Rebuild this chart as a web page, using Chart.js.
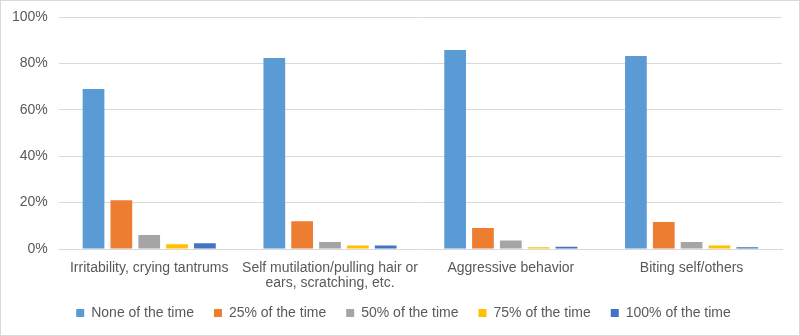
<!DOCTYPE html>
<html>
<head>
<meta charset="utf-8">
<script src="https://cdn.jsdelivr.net/npm/chart.js@4/dist/chart.umd.min.js"></script>
<style>
html,body{margin:0;padding:0;background:#fff;}
#wrap{position:absolute;left:0;top:0;width:798px;height:334px;border:1px solid #D9D9D9;background:#fff;}
canvas{display:block;}
</style>
</head>
<body>
<div id="wrap"><canvas id="c" width="798" height="334"></canvas></div>
<script>
const categories = [
  "Irritability, crying tantrums",
  ["Self mutilation/pulling hair or", "ears, scratching, etc."],
  "Aggressive behavior",
  "Biting self/others"
];
const seriesNames = ["None of the time", "25% of the time", "50% of the time", "75% of the time", "100% of the time"];
const noneOfTime = [69.0, 82.3, 85.8, 83.2];
const pct25 = [21.0, 12.0, 9.0, 11.6];
const pct50 = [6.0, 3.0, 3.7, 3.0];
const pct75 = [2.0, 1.5, 0.8, 1.5];
const pct100 = [2.5, 1.5, 1.0, 0.8];
const yTicks = [0, 20, 40, 60, 80, 100];
const colors = ["#5B9BD5", "#ED7D31", "#A5A5A5", "#FFC000", "#4472C4"];

const values = [noneOfTime, pct25, pct50, pct75, pct100];
const FONT = "'Liberation Sans', Arial, sans-serif";

const legendShift = {
  id: 'legendShift',
  afterLayout(chart) {
    const lg = chart.legend;
    if (lg) { lg.left += 12; lg.right += 12; lg.top -= 5; lg.bottom -= 5; }
  }
};

new Chart(document.getElementById('c'), {
  type: 'bar',
  data: {
    labels: categories,
    datasets: values.map((v, i) => ({
      label: seriesNames[i],
      data: v,
      backgroundColor: colors[i],
      borderWidth: 0,
      categoryPercentage: 0.77,
      barPercentage: 0.78
    }))
  },
  plugins: [legendShift],
  options: {
    responsive: false,
    animation: false,
    devicePixelRatio: 1,
    layout: { padding: { left: 0, right: 17, top: 16, bottom: 0 } },
    plugins: {
      legend: {
        position: 'bottom',
        labels: {
          boxWidth: 8,
          boxHeight: 8,
          padding: 20,
          color: '#595959',
          font: { family: FONT, size: 14 }
        }
      },
      tooltip: { enabled: false }
    },
    scales: {
      x: {
        grid: { display: false, drawTicks: false },
        border: { color: '#D9D9D9', width: 1 },
        ticks: { color: '#595959', font: { family: FONT, size: 14, lineHeight: 1.1 }, padding: 11, maxRotation: 0, autoSkip: false },
        afterFit: (s) => { s.height = 42; }
      },
      y: {
        min: 0, max: 100,
        afterBuildTicks: (ax) => { ax.ticks = yTicks.map(v => ({ value: v })); },
        afterFit: (s) => { s.paddingTop = 0; s.paddingBottom = 0; },
        grid: { color: '#D9D9D9', drawTicks: false },
        border: { display: false },
        ticks: { color: '#595959', font: { family: FONT, size: 14 }, padding: 11, callback: v => v + '%' }
      }
    }
  }
});
</script>
</body>
</html>
